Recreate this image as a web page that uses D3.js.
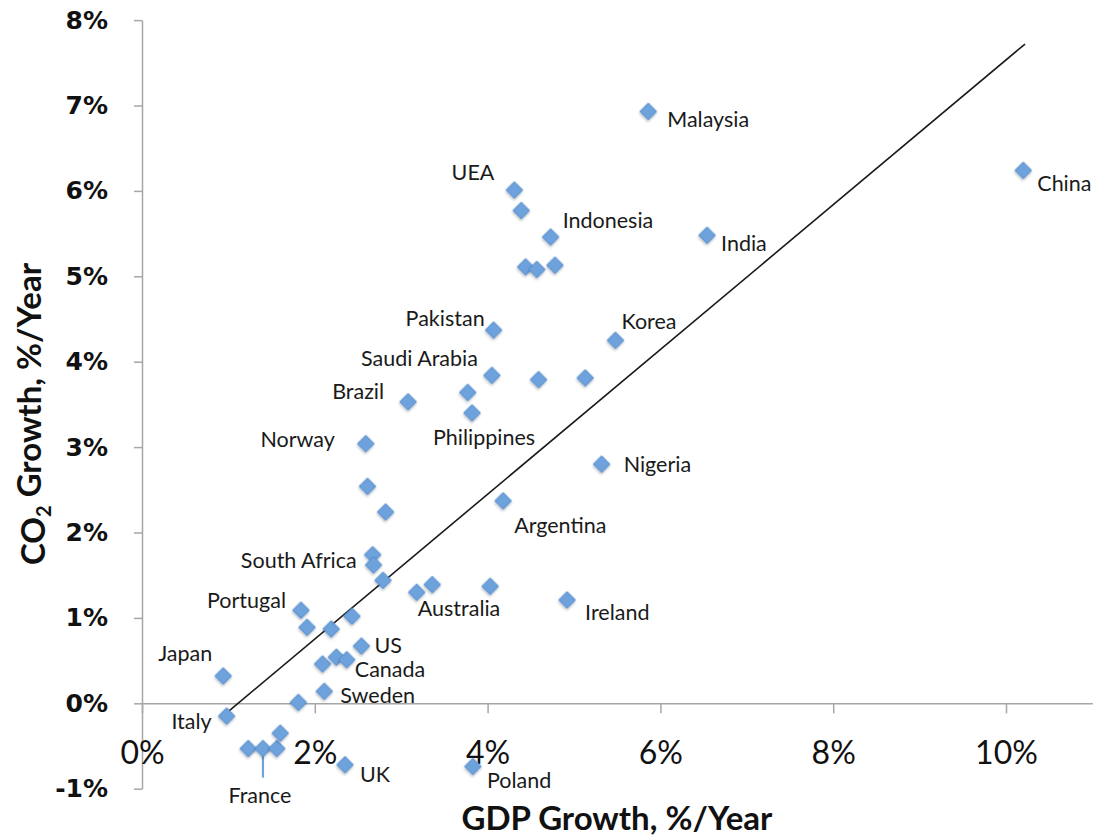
<!DOCTYPE html>
<html>
<head>
<meta charset="utf-8">
<script src="https://cdn.jsdelivr.net/npm/d3@7"></script>
<style>
  html, body { margin: 0; padding: 0; background: #fff; }
  svg { display: block; }
</style>
</head>
<body>
<svg id="chart" width="1094" height="836"></svg>
<script>
// ---------------- DATA ----------------
const countries = ["Malaysia","China","UEA","","Indonesia","","","","India","Pakistan","Korea",
  "Saudi Arabia","","","","Philippines","Brazil","Norway","Nigeria","","","Argentina",
  "South Africa","","","Australia","","","Ireland","Portugal","","","","US","","","Canada",
  "Japan","Sweden","","Italy","","France","","","UK","Poland"];
const gdpGrowth = [5.86,10.20,4.31,4.39,4.73,4.44,4.57,4.78,6.54,4.07,5.48,
  4.05,4.59,5.13,3.77,3.82,3.08,2.59,5.32,2.61,2.82,4.18,
  2.67,2.68,2.79,3.18,3.36,4.03,4.92,1.84,1.91,2.19,2.43,2.54,2.09,2.25,2.37,
  0.94,2.11,1.81,0.98,1.23,1.40,1.56,1.60,2.35,3.83];
const co2Growth = [6.93,6.24,6.01,5.77,5.46,5.11,5.08,5.13,5.48,4.37,4.25,
  3.84,3.79,3.81,3.64,3.40,3.53,3.04,2.80,2.54,2.24,2.37,
  1.74,1.62,1.44,1.30,1.39,1.37,1.21,1.09,0.89,0.87,1.02,0.67,0.46,0.54,0.51,
  0.32,0.14,0.01,-0.15,-0.53,-0.53,-0.53,-0.35,-0.72,-0.74];
const trendGdp = [0.97, 10.22];
const trendCo2 = [-0.12, 7.72];
const xTicks = [0, 2, 4, 6, 8, 10];
const yTicks = [-1, 0, 1, 2, 3, 4, 5, 6, 7, 8];
const xTitle = "GDP Growth, %/Year";

// label layout (anchor, dx, dy in px relative to marker)
const labelLayout = {
  "Malaysia": ["start", 19, 8], "China": ["start", 14, 13], "UEA": ["end", -20, -18],
  "Indonesia": ["start", 12, -17], "India": ["start", 14, 8], "Pakistan": ["end", -9, -12],
  "Korea": ["start", 6, -19], "Saudi Arabia": ["end", -14, -17], "Philippines": ["middle", 12, 25],
  "Brazil": ["end", -24, -10], "Norway": ["end", -31, -4], "Nigeria": ["start", 22, 0],
  "Argentina": ["start", 11, 25], "South Africa": ["end", -16, 6], "Australia": ["start", 1, 16],
  "Ireland": ["start", 18, 13], "Portugal": ["end", -15, -10], "US": ["start", 13, -1],
  "Canada": ["start", 8, 10], "Japan": ["end", -11, -22], "Sweden": ["start", 16, 4],
  "Italy": ["end", -15, 5], "France": ["middle", -3, 47], "UK": ["start", 15, 10],
  "Poland": ["start", 14, 14]
};

// ---------------- CHART ----------------
const svg = d3.select("#chart");
const x = d3.scaleLinear().domain([0, 11]).range([142, 1092.4]);
const y = d3.scaleLinear().domain([-1, 8]).range([788.7, 20.1]);
const axisColor = "#a6a6a6";

const defs = svg.append("defs");
const f = defs.append("filter").attr("id", "sh").attr("x", "-50%").attr("y", "-50%").attr("width", "200%").attr("height", "200%");
f.append("feDropShadow").attr("dx", 1).attr("dy", 1.5).attr("stdDeviation", 1.2)
  .attr("flood-color", "#000").attr("flood-opacity", 0.25);

// Y axis
const yAxis = svg.append("g").attr("transform", `translate(${x(0)},0)`)
  .call(d3.axisLeft(y).tickValues(yTicks).tickSize(8).tickSizeOuter(0).tickPadding(26)
    .tickFormat(d => d + "%"));
yAxis.select(".domain").attr("stroke", axisColor).attr("stroke-width", 1.5);
yAxis.selectAll(".tick line").attr("stroke", axisColor).attr("stroke-width", 1.5);
yAxis.selectAll(".tick text").attr("font-family", "DejaVu Sans").attr("font-weight", "bold")
  .attr("font-size", 25).attr("fill", "#111");

// X axis
const xAxis = svg.append("g").attr("transform", `translate(0,${y(0)})`)
  .call(d3.axisBottom(x).tickValues(xTicks).tickSize(10).tickSizeOuter(0)
    .tickFormat(d => d + "%"));
xAxis.select(".domain").attr("stroke", axisColor).attr("stroke-width", 1.5);
xAxis.selectAll(".tick line").attr("stroke", axisColor).attr("stroke-width", 1.5);
xAxis.selectAll(".tick text").attr("font-family", "Lato").attr("font-size", 32)
  .attr("fill", "#111").attr("y", 50).attr("dy", "0.35em");

// Trend line
svg.append("path")
  .datum(trendGdp.map((g, i) => [g, trendCo2[i]]))
  .attr("d", d3.line().x(d => x(d[0])).y(d => y(d[1])))
  .attr("stroke", "#1a1a1a").attr("stroke-width", 1.6).attr("fill", "none");

const pts = gdpGrowth.map((g, i) => ({ g, c: co2Growth[i], name: countries[i] }));

// France leader line
pts.filter(p => p.name === "France").forEach(p => {
  const l = labelLayout[p.name];
  svg.append("line").attr("x1", x(p.g)).attr("x2", x(p.g))
    .attr("y1", y(p.c)).attr("y2", y(p.c) + l[2] - 18)
    .attr("stroke", "#6ea2dc").attr("stroke-width", 2.2);
});

// Markers
const diamond = d3.symbol().type(d3.symbolSquare).size(140);
svg.append("g").selectAll("path").data(pts).join("path")
  .attr("d", diamond)
  .attr("transform", d => `translate(${x(d.g)},${y(d.c)}) rotate(45)`)
  .attr("fill", "#6ea2dc").attr("stroke", "#4f86c6").attr("stroke-width", 0.8)
  .attr("filter", "url(#sh)");

// Labels
svg.append("g").selectAll("text").data(pts.filter(p => p.name)).join("text")
  .attr("x", d => x(d.g) + labelLayout[d.name][1])
  .attr("y", d => y(d.c) + labelLayout[d.name][2])
  .attr("dy", "0.35em")
  .attr("text-anchor", d => labelLayout[d.name][0])
  .attr("font-family", "Lato").attr("font-size", 21.5).attr("fill", "#1a1a1a")
  .text(d => d.name);

// Axis titles
svg.append("text").attr("x", 617).attr("y", 818).attr("dy", "0.35em")
  .attr("text-anchor", "middle").attr("font-family", "Lato").attr("font-weight", "bold")
  .attr("font-size", 33).attr("fill", "#111").text(xTitle);

const yt = svg.append("text").attr("transform", "translate(33,414) rotate(-90)")
  .attr("dy", "0.35em").attr("text-anchor", "middle").attr("font-family", "Lato")
  .attr("font-weight", "bold").attr("font-size", 33).attr("fill", "#111");
yt.append("tspan").text("CO");
yt.append("tspan").attr("font-size", 20).attr("dy", "0.3em").text("2");
yt.append("tspan").attr("dy", "-0.3em").text(" Growth, %/Year");
</script>
</body>
</html>
